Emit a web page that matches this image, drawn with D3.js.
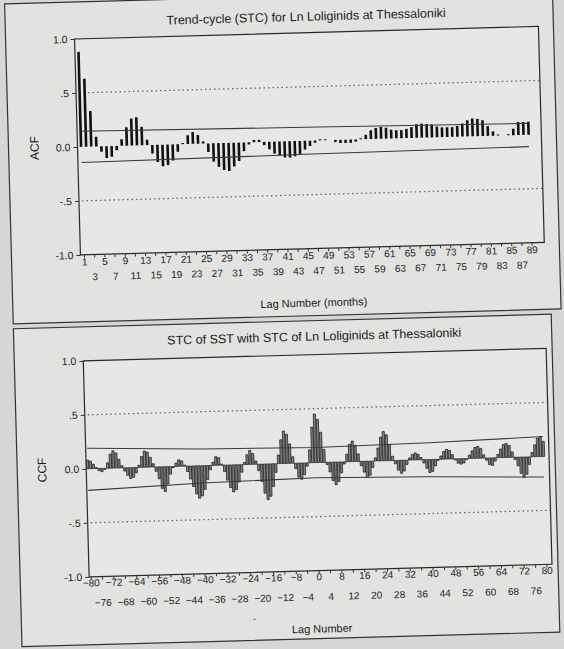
<!DOCTYPE html>
<html>
<head>
<meta charset="utf-8">
<script src="https://cdn.jsdelivr.net/npm/d3@7"></script>
<style>
  html, body { margin: 0; padding: 0; background: #d6d6d4; }
  svg { display: block; font-family: "Liberation Sans", Arial, sans-serif; }
</style>
</head>
<body>
<svg id="chart" width="564" height="649"></svg>
<script>
// ACF of the trend-cycle, lags 1..89
const acfLags = d3.range(1, 90);
const acfValues = [
  0.88, 0.63, 0.33, 0.09, -0.05, -0.11, -0.10, -0.04, 0.06, 0.17,
  0.25, 0.26, 0.17, 0.05, -0.08, -0.16, -0.20, -0.19, -0.15, -0.07,
  0.01, 0.08, 0.11, 0.08, 0.02, -0.08, -0.17, -0.22, -0.25, -0.26,
  -0.22, -0.17, -0.08, -0.02, 0.02, 0.02, -0.03, -0.07, -0.11, -0.13,
  -0.15, -0.15, -0.14, -0.12, -0.08, -0.05, -0.02, 0.01, 0.01, 0.0,
  -0.02, -0.03, -0.03, -0.03, -0.02, 0.01, 0.04, 0.08, 0.10, 0.11,
  0.10, 0.08, 0.075, 0.075, 0.085, 0.10, 0.125, 0.13, 0.125, 0.12,
  0.10, 0.09, 0.09, 0.09, 0.10, 0.12, 0.15, 0.165, 0.16, 0.145,
  0.09, 0.04, 0.01, 0.0, 0.01, 0.06, 0.12, 0.12, 0.12
];
const acfLimitLags = [1, 45, 89];
const acfLimitUpper = [0.145, 0.125, 0.105];
const acfLimitLower = [-0.145, -0.125, -0.11];
const acfRow1 = [1, 5, 9, 13, 17, 21, 25, 29, 33, 37, 41, 45, 49, 53, 57, 61, 65, 69, 73, 77, 81, 85, 89];
const acfRow2 = [3, 7, 11, 15, 19, 23, 27, 31, 35, 39, 43, 47, 51, 55, 59, 63, 67, 71, 75, 79, 83, 87];

// CCF of SST with the trend-cycle, lags -80..80
const ccfLags = d3.range(-80, 81);
const ccfValues = [
  0.08, 0.07, 0.04, 0.01, -0.02, -0.03, -0.01, 0.05, 0.13, 0.16,
  0.14, 0.08, 0.02, -0.03, -0.07, -0.10, -0.09, -0.05, 0.02, 0.10,
  0.15, 0.14, 0.09, 0.03, -0.04, -0.11, -0.20, -0.23, -0.16, -0.07,
  -0.01, 0.03, 0.06, 0.05, 0.01, -0.05, -0.12, -0.19, -0.26, -0.30,
  -0.28, -0.22, -0.13, -0.04, 0.03, 0.08, 0.07, 0.01, -0.06, -0.14,
  -0.21, -0.25, -0.23, -0.16, -0.07, 0.02, 0.09, 0.13, 0.10, 0.03,
  -0.06, -0.16, -0.27, -0.33, -0.30, -0.21, -0.08, 0.08, 0.22, 0.30,
  0.27, 0.18, 0.06, -0.05, -0.13, -0.15, -0.11, -0.03, 0.12, 0.33,
  0.45, 0.40, 0.28, 0.12, -0.02, -0.09, -0.17, -0.21, -0.18, -0.10,
  -0.02, 0.07, 0.16, 0.19, 0.15, 0.07, -0.04, -0.10, -0.15, -0.13,
  -0.06, 0.03, 0.12, 0.22, 0.27, 0.24, 0.15, 0.04, -0.03, -0.09,
  -0.12, -0.10, -0.04, 0.02, 0.05, 0.065, 0.05, 0.02, -0.03, -0.08,
  -0.12, -0.11, -0.06, -0.01, 0.03, 0.07, 0.09, 0.08, 0.04, -0.01,
  -0.04, -0.05, -0.04, -0.01, 0.03, 0.07, 0.10, 0.11, 0.09, 0.03,
  -0.02, -0.06, -0.07, -0.03, 0.03, 0.08, 0.12, 0.13, 0.11, 0.05,
  -0.02, -0.08, -0.15, -0.19, -0.16, -0.07, 0.04, 0.11, 0.17, 0.18, 0.14
];
const ccfLimitLags = [-80, -40, 0, 40, 80];
const ccfLimitUpper = [0.19, 0.155, 0.14, 0.155, 0.185];
const ccfLimitLower = [-0.2, -0.16, -0.14, -0.16, -0.19];
const ccfRow1 = [-80, -72, -64, -56, -48, -40, -32, -24, -16, -8, 0, 8, 16, 24, 32, 40, 48, 56, 64, 72, 80];
const ccfRow2 = [-76, -68, -60, -52, -44, -36, -28, -20, -12, -4, 4, 12, 20, 28, 36, 44, 52, 60, 68, 76];

// y axis ticks shared by both charts
const yTicks = [1, 0.5, 0, -0.5, -1];
const yTickLabels = ["1.0", ".5", "0.0", "-.5", "-1.0"];

const svg = d3.select("#chart");
// the scanned page is slightly tilted
const page = svg.append("g").attr("transform", "rotate(-1.55,300,310)");

// outer frames of the two output panels
page.append("rect").attr("x", 13).attr("y", -4).attr("width", 548).attr("height", 320)
  .attr("fill", "#e2e2e0").attr("stroke", "#333").attr("stroke-width", 1.2);
page.append("rect").attr("x", 13).attr("y", 321).attr("width", 538).attr("height", 318)
  .attr("fill", "#e2e2e0").attr("stroke", "#333").attr("stroke-width", 1.2);

function drawChart(cfg) {
  const g = page.append("g");
  const x = d3.scaleLinear().domain(cfg.xDomain).range([cfg.left, cfg.right]);
  const y = d3.scaleLinear().domain([-1, 1]).range([cfg.bottom, cfg.top]);

  // plot area
  g.append("rect")
    .attr("x", cfg.left).attr("y", cfg.top)
    .attr("width", cfg.right - cfg.left).attr("height", cfg.bottom - cfg.top)
    .attr("fill", "#e7e7e5");

  // dotted reference lines at +-.5
  g.selectAll("line.ref").data([0.5, -0.5]).join("line")
    .attr("class", "ref")
    .attr("x1", cfg.left + 3).attr("x2", cfg.right)
    .attr("y1", d => y(d)).attr("y2", d => y(d))
    .attr("stroke", "#666").attr("stroke-width", 1.3)
    .attr("stroke-dasharray", "1.5,3");

  // bars
  g.selectAll("rect.bar").data(d3.zip(cfg.lags, cfg.values)).join("rect")
    .attr("class", "bar")
    .attr("x", d => x(d[0]) - cfg.barWidth / 2)
    .attr("width", cfg.barWidth)
    .attr("y", d => y(Math.max(0, d[1])))
    .attr("height", d => Math.abs(y(d[1]) - y(0)))
    .attr("fill", cfg.barFill)
    .attr("stroke", cfg.barStroke)
    .attr("stroke-width", cfg.barStrokeWidth);

  // confidence limits
  const limitLine = d3.line().x(d => x(d[0])).y(d => y(d[1]));
  [cfg.limitUpper, cfg.limitLower].forEach(vals => {
    g.append("path")
      .datum(d3.zip(cfg.limitLags, vals))
      .attr("d", limitLine)
      .attr("fill", "none").attr("stroke", "#3a3a3a").attr("stroke-width", 1.1);
  });

  // frame
  g.append("rect")
    .attr("x", cfg.left).attr("y", cfg.top)
    .attr("width", cfg.right - cfg.left).attr("height", cfg.bottom - cfg.top)
    .attr("fill", "none").attr("stroke", "#2a2a2a").attr("stroke-width", 1.2);

  // y axis
  const yAxis = g.append("g")
    .attr("transform", "translate(" + cfg.left + ",0)")
    .call(d3.axisLeft(y).tickValues(yTicks)
      .tickFormat((d, i) => yTickLabels[i]).tickSize(4).tickPadding(3));
  yAxis.select(".domain").remove();
  yAxis.selectAll("text").attr("font-size", 10.5).attr("font-family", null).attr("fill", "#222");
  yAxis.selectAll("line").attr("stroke", "#333");

  // x axis tick marks and two staggered label rows
  const xTicks = g.append("g")
    .attr("transform", "translate(0," + cfg.bottom + ")")
    .call(d3.axisBottom(x).tickValues(cfg.row1.concat(cfg.row2)).tickSize(3).tickFormat(""));
  xTicks.select(".domain").remove();
  xTicks.selectAll("line").attr("stroke", "#333");

  [[cfg.row1, cfg.rowPad[0]], [cfg.row2, cfg.rowPad[1]]].forEach(([row, pad]) => {
    const a = g.append("g")
      .attr("transform", "translate(0," + cfg.bottom + ")")
      .call(d3.axisBottom(x).tickValues(row).tickSize(0).tickPadding(pad));
    a.select(".domain").remove();
    a.selectAll("text").attr("font-size", 10).attr("font-family", null).attr("fill", "#222");
  });

  // titles
  g.append("text")
    .attr("x", (cfg.left + cfg.right) / 2).attr("y", cfg.titleY)
    .attr("text-anchor", "middle").attr("font-size", 12.5).attr("fill", "#1a1a1a")
    .text(cfg.title);
  g.append("text")
    .attr("x", (cfg.left + cfg.right) / 2).attr("y", cfg.xTitleY)
    .attr("text-anchor", "middle").attr("font-size", 11).attr("fill", "#1a1a1a")
    .text(cfg.xTitle);
  g.append("text")
    .attr("transform", "translate(" + cfg.yTitleX + "," + (cfg.top + cfg.bottom) / 2 + ") rotate(-90)")
    .attr("text-anchor", "middle").attr("font-size", 12).attr("fill", "#1a1a1a")
    .text(cfg.yTitle);

  return g;
}

drawChart({
  lags: acfLags, values: acfValues,
  limitLags: acfLimitLags, limitUpper: acfLimitUpper, limitLower: acfLimitLower,
  row1: acfRow1, row2: acfRow2, rowPad: [3.5, 18.5],
  xDomain: [0.3, 91.5], left: 82, right: 546, top: 33, bottom: 249,
  barWidth: 2.6, barFill: "#111", barStroke: "none", barStrokeWidth: 0,
  title: "Trend-cycle (STC) for Ln Loliginids at Thessaloniki", titleY: 21,
  xTitle: "Lag Number (months)", xTitleY: 307,
  yTitle: "ACF", yTitleX: 43
});

const ccf = drawChart({
  lags: ccfLags, values: ccfValues,
  limitLags: ccfLimitLags, limitUpper: ccfLimitUpper, limitLower: ccfLimitLower,
  row1: ccfRow1, row2: ccfRow2, rowPad: [2.5, 22.5],
  xDomain: [-80.53, 81.93], left: 82, right: 545, top: 355, bottom: 571,
  barWidth: 2.2, barFill: "#858585", barStroke: "#121212", barStrokeWidth: 0.7,
  title: "STC of SST with STC of Ln Loliginids at Thessaloniki", titleY: 341,
  xTitle: "Lag Number", xTitleY: 633,
  yTitle: "CCF", yTitleX: 42
});

// stray mark under the lag labels in the scan
ccf.append("text").attr("x", 246).attr("y", 620)
  .attr("text-anchor", "middle").attr("font-size", 9).attr("fill", "#222").text("-");
</script>
</body>
</html>
